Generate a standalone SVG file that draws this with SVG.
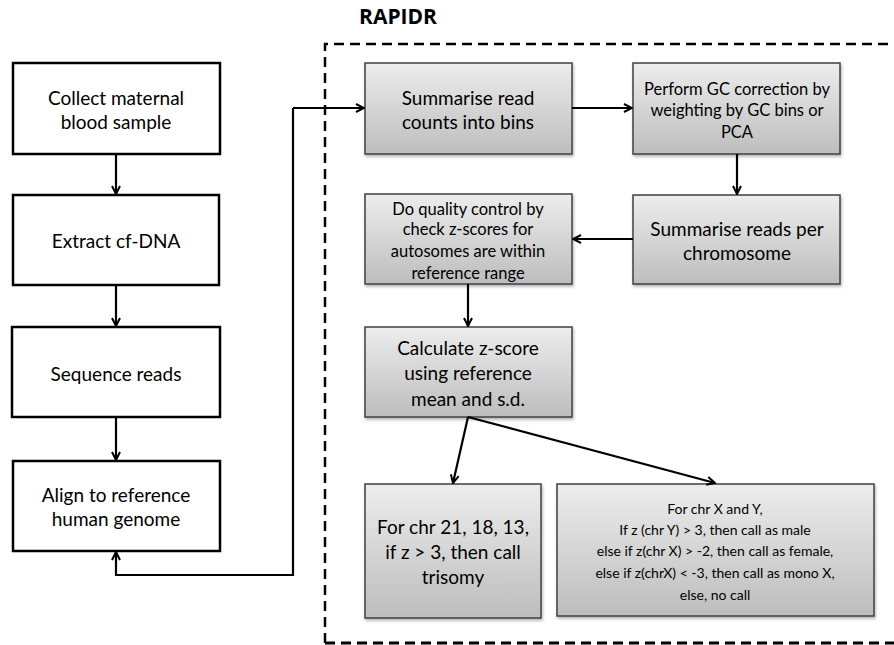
<svg xmlns="http://www.w3.org/2000/svg" width="894" height="645" viewBox="0 0 894 645">
<defs>
<linearGradient id="g" x1="0" y1="0" x2="0" y2="1">
<stop offset="0" stop-color="#ededed"/>
<stop offset="1" stop-color="#bdbdbd"/>
</linearGradient>
<filter id="sh" x="-10%" y="-10%" width="120%" height="130%">
<feDropShadow dx="1" dy="2" stdDeviation="1.5" flood-color="#000" flood-opacity="0.3"/>
</filter>
<marker id="ah" viewBox="0 0 10 10" refX="9" refY="5" markerWidth="10" markerHeight="10" markerUnits="userSpaceOnUse" orient="auto">
<path d="M1,1 L9,5 L1,9" fill="none" stroke="#000" stroke-width="2"/>
</marker>
<style>
.w{fill:#fff;stroke:#000;stroke-width:2.5}
.gr{fill:url(#g);stroke:#404040;stroke-width:1.5;filter:url(#sh)}
text{font-family:"Lato","Open Sans","Liberation Sans",sans-serif;fill:#000;text-anchor:middle}
.b{font-size:19px}
.s{font-size:16.5px}
.x{font-size:14px}
.c{fill:none;stroke:#000;stroke-width:2.2;marker-end:url(#ah)}
</style>
</defs>
<text x="398" y="24" style="font-size:21px;font-weight:bold;font-family:'Open Sans','Liberation Sans',sans-serif">RAPIDR</text>
<path d="M325,643 L325,44 L894,44" fill="none" stroke="#000" stroke-width="2.5" stroke-dasharray="10,6"/>
<path d="M325,643 L894,643" fill="none" stroke="#000" stroke-width="3" stroke-dasharray="10,6"/>
<g id="n1"><rect class="w" x="13" y="63" width="207" height="91"/><text class="b" x="116" y="105">Collect maternal</text><text class="b" x="116" y="129">blood sample</text></g>
<g id="n2"><rect class="w" x="13" y="195" width="206" height="90"/><text class="b" x="116" y="248">Extract cf-DNA</text></g>
<g id="n3"><rect class="w" x="12" y="327" width="208" height="90"/><text class="b" x="116" y="381">Sequence reads</text></g>
<g id="n4"><rect class="w" x="13" y="461" width="207" height="90"/><text class="b" x="116" y="502">Align to reference</text><text class="b" x="116" y="526">human genome</text></g>
<g id="n5"><rect class="gr" x="365" y="63" width="207" height="91"/><text class="b" x="468" y="105">Summarise read</text><text class="b" x="468" y="129">counts into bins</text></g>
<g id="n6"><rect class="gr" x="633" y="63" width="207" height="91"/><text class="s" x="737" y="95">Perform GC correction by</text><text class="s" x="737" y="116">weighting by GC bins or</text><text class="s" x="737" y="138">PCA</text></g>
<g id="n7"><rect class="gr" x="633" y="195" width="207" height="89"/><text class="b" x="737" y="236">Summarise reads per</text><text class="b" x="737" y="260">chromosome</text></g>
<g id="n8"><rect class="gr" x="365" y="194" width="207" height="90"/><text class="s" x="468" y="215">Do quality control by</text><text class="s" x="468" y="235">check z-scores for</text><text class="s" x="468" y="257">autosomes are within</text><text class="s" x="468" y="279">reference range</text></g>
<g id="n9"><rect class="gr" x="365" y="327" width="207" height="90"/><text class="b" x="468" y="355">Calculate z-score</text><text class="b" x="468" y="380">using reference</text><text class="b" x="468" y="406">mean and s.d.</text></g>
<g id="n10"><rect class="gr" x="365" y="484" width="176" height="134"/><text class="b" x="453" y="534">For chr 21, 18, 13,</text><text class="b" x="453" y="559">if z &gt; 3, then call</text><text class="b" x="453" y="584">trisomy</text></g>
<g id="n11"><rect class="gr" x="557" y="484" width="317" height="132"/><text class="x" x="715" y="514">For chr X and Y,</text><text class="x" x="715" y="535">If z (chr Y) &gt; 3, then call as male</text><text class="x" x="715" y="556">else if z(chr X) &gt; -2, then call as female,</text><text class="x" x="715" y="578">else if z(chrX) &lt; -3, then call as mono X,</text><text class="x" x="715" y="600">else, no call</text></g>
<g id="connectors">
<path class="c" d="M116,154 L116,194"/>
<path class="c" d="M116,285 L116,326"/>
<path class="c" d="M116,417 L116,460"/>
<path class="c" d="M293,108 L293,575 L116,575 L116,552"/>
<path class="c" d="M293,108 L364,108"/>
<path class="c" d="M572,108 L632,108"/>
<path class="c" d="M737,154 L737,194"/>
<path class="c" d="M633,239 L573,239"/>
<path class="c" d="M468,284 L468,326"/>
<path class="c" d="M468,417 L453,483"/>
<path class="c" d="M468,417 L715,483"/>
</g>
</svg>
